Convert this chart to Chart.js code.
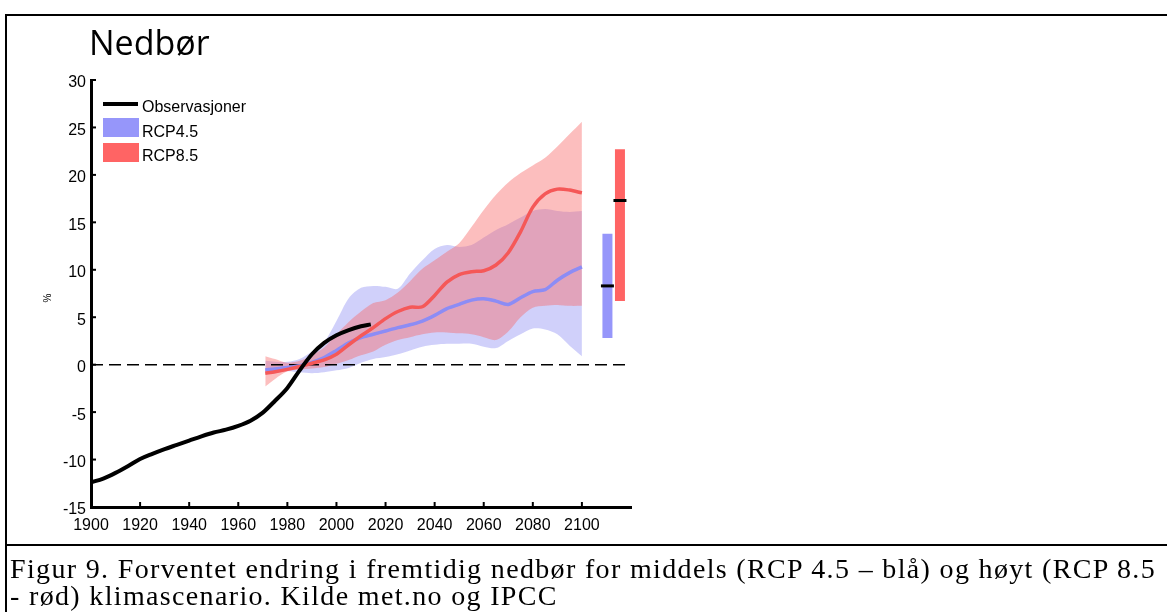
<!DOCTYPE html>
<html>
<head>
<meta charset="utf-8">
<title>Nedbør</title>
<script src="https://cdn.jsdelivr.net/npm/chart.js@4.4.1/dist/chart.umd.min.js"></script>
<style>
  html, body { margin: 0; padding: 0; background: #fff; }
  body { width: 1167px; height: 612px; position: relative; overflow: hidden; }
  #frame { position: absolute; left: 5px; top: 14px; width: 1170px; height: 620px;
           border-top: 2px solid #000; border-left: 2px solid #000; }
  #split { position: absolute; left: 5px; top: 544px; width: 1170px; height: 2px; background: #000; }
  #wrap { position: absolute; left: 0; top: 0; width: 660px; height: 545px; }
  .cap { position: absolute; left: 10px; font-family: "Liberation Serif", serif; font-size: 28px;
         line-height: 27px; white-space: nowrap; color: #000; }
</style>
</head>
<body>
<div id="frame"></div>
<div id="wrap"><canvas id="nedbor-chart"></canvas></div>
<div id="split"></div>
<div class="cap" id="cap1" style="top:555px">Figur 9. Forventet endring i fremtidig nedbør for middels (RCP 4.5 – blå) og høyt (RCP 8.5</div>
<div class="cap" id="cap2" style="top:582px">- rød) klimascenario. Kilde met.no og IPCC</div>
<script>
// observasjoner
const obsYears = [1900, 1905, 1910, 1915, 1920, 1925, 1930, 1935, 1940, 1945, 1950, 1955,
                  1960, 1965, 1970, 1975, 1980, 1985, 1990, 1995, 2000, 2005, 2010, 2014];
const obsValues = [-12.4, -12.0, -11.4, -10.7, -9.95, -9.4, -8.9, -8.45, -8.0, -7.55, -7.15, -6.85,
                   -6.45, -5.9, -5.05, -3.8, -2.45, -0.6, 1.1, 2.3, 3.1, 3.65, 4.05, 4.25];

// scenarier
const projYears = [1971, 1975, 1980, 1985, 1990, 1995, 2000, 2005, 2010, 2015, 2020, 2025, 2030, 2035,
                   2040, 2045, 2050, 2055, 2060, 2065, 2070, 2075, 2080, 2085, 2090, 2095, 2100];
const rcp45Mean = [-0.55, -0.45, -0.3, -0.1, 0.25, 0.75, 1.5, 2.3, 2.85, 3.2, 3.55, 3.9, 4.2, 4.6,
                   5.2, 5.9, 6.35, 6.8, 6.95, 6.7, 6.35, 7.05, 7.7, 7.9, 8.9, 9.7, 10.3];
const rcp45High = [0.4, 0.3, 0.3, 0.6, 1.4, 2.4, 4.6, 7.0, 8.1, 8.3, 8.2, 8.0, 9.6, 11.0,
                   12.2, 12.6, 12.4, 12.6, 13.4, 14.2, 14.8, 15.5, 16.2, 16.4, 16.2, 16.1, 16.2];
const rcp45Low = [-1.0, -0.9, -0.7, -0.8, -0.9, -0.8, -0.6, -0.35, 0.2, 0.6, 0.8, 1.1, 1.5, 1.9,
                  2.1, 2.2, 2.2, 2.2, 1.9, 1.75, 2.5, 3.2, 3.8, 3.7, 3.2, 2.0, 0.9];
const rcp85Mean = [-0.9, -0.75, -0.5, -0.2, 0.15, 0.5, 1.1, 2.1, 3.05, 3.9, 4.85, 5.6, 6.05, 6.1,
                   7.3, 8.7, 9.5, 9.8, 9.9, 10.5, 11.8, 14.0, 16.6, 18.0, 18.5, 18.4, 18.1];
const rcp85High = [0.9, 0.6, 0.2, 0.4, 1.0, 1.8, 3.2, 4.5, 5.6, 6.5, 6.8, 7.6, 8.8, 10.1,
                   11.0, 11.9, 12.8, 14.5, 16.3, 17.9, 19.2, 20.2, 21.0, 21.8, 23.0, 24.3, 25.6];
const rcp85Low = [-2.3, -1.5, -0.7, -0.5, -0.4, -0.25, 0.1, 0.5, 1.0, 1.4, 2.1, 2.6, 2.9, 3.2,
                  3.4, 3.4, 3.3, 3.2, 2.9, 2.6, 3.5, 5.0, 6.0, 6.2, 6.3, 6.2, 6.2];

// spenn ved 2100 (RCP4.5, RCP8.5)
const rangeYears = [2110.4, 2115.5];
const rangeLow = [2.8, 6.7];
const rangeHigh = [13.8, 22.7];
const rangeMedian = [8.3, 17.3];

const xRange = [1900, 2120];
const yRange = [-15, 30];
const zeroValues = [0, 0];
const legendLabels = ['Observasjoner', 'RCP4.5', 'RCP8.5'];

const BLUE = 'rgb(150, 150, 250)';
const RED = 'rgb(255, 100, 100)';

const pts = (xs, ys) => xs.map((x, i) => ({ x: x, y: ys[i] }));

const decor = {
    id: 'decor',
    afterDatasetsDraw(chart) {
        const { ctx, chartArea, scales: { x, y } } = chart;
        ctx.save();
        // ticks pointing inwards
        ctx.strokeStyle = '#000';
        ctx.lineWidth = 2;
        x.ticks.forEach(t => {
            if (t.value > 2100) return;
            const px = x.getPixelForValue(t.value);
            ctx.beginPath();
            ctx.moveTo(px, chartArea.bottom);
            ctx.lineTo(px, chartArea.bottom - 5);
            ctx.stroke();
        });
        y.ticks.forEach(t => {
            const py = y.getPixelForValue(t.value);
            ctx.beginPath();
            ctx.moveTo(chartArea.left, py);
            ctx.lineTo(chartArea.left + 5, py);
            ctx.stroke();
        });

        // legend
        const lx = chartArea.left + 12;
        ctx.font = '16px "Liberation Sans", Arial, sans-serif';
        ctx.fillStyle = '#000';
        ctx.textBaseline = 'alphabetic';
        ctx.lineWidth = 4;
        ctx.beginPath();
        ctx.moveTo(lx, 104);
        ctx.lineTo(lx + 35, 104);
        ctx.stroke();
        ctx.fillText(legendLabels[0], lx + 39, 112);
        ctx.fillStyle = BLUE;
        ctx.fillRect(lx, 118, 36, 19);
        ctx.fillStyle = RED;
        ctx.fillRect(lx, 143, 36, 19);
        ctx.fillStyle = '#000';
        ctx.fillText(legendLabels[1], lx + 39, 137);
        ctx.fillText(legendLabels[2], lx + 39, 161);

        // title
        ctx.font = '34px "Open Sans", sans-serif';
        ctx.fillText('Nedbør', 89, 55);

        // y axis unit
        ctx.font = '10px "Liberation Sans", Arial, sans-serif';
        ctx.translate(51, 298);
        ctx.rotate(-Math.PI / 2);
        ctx.textAlign = 'center';
        ctx.fillText('%', 0, 0);
        ctx.restore();
    }
};

const bandStyle = (color, order) => ({
    borderWidth: 0,
    borderColor: 'rgba(0,0,0,0)',
    backgroundColor: color,
    pointRadius: 0,
    tension: 0.3,
    order: order
});

new Chart(document.getElementById('nedbor-chart').getContext('2d'), {
    type: 'line',
    data: {
        datasets: [
            Object.assign({ label: 'RCP4.5 hi', data: pts(projYears, rcp45High), fill: '+1' }, bandStyle('rgba(120, 120, 240, 0.35)', 10)),
            Object.assign({ label: 'RCP4.5 lo', data: pts(projYears, rcp45Low), fill: false }, bandStyle('rgba(0,0,0,0)', 10)),
            Object.assign({ label: 'RCP8.5 hi', data: pts(projYears, rcp85High), fill: '+1' }, bandStyle('rgba(248, 100, 100, 0.42)', 9)),
            Object.assign({ label: 'RCP8.5 lo', data: pts(projYears, rcp85Low), fill: false }, bandStyle('rgba(0,0,0,0)', 9)),
            {
                label: 'null', data: pts(xRange, zeroValues), borderColor: '#000', borderWidth: 1.5,
                borderDash: [12, 6], pointRadius: 0, fill: false, order: 8
            },
            {
                label: legendLabels[1], data: pts(projYears, rcp45Mean), borderColor: 'rgb(140, 140, 245)',
                borderWidth: 3.5, pointRadius: 0, tension: 0.3, fill: false, order: 7
            },
            {
                label: legendLabels[2], data: pts(projYears, rcp85Mean), borderColor: 'rgb(245, 88, 88)',
                borderWidth: 3.5, pointRadius: 0, tension: 0.3, fill: false, order: 6
            },
            {
                label: legendLabels[0], data: pts(obsYears, obsValues), borderColor: '#000',
                borderWidth: 4, pointRadius: 0, cubicInterpolationMode: 'monotone', fill: false, order: 5
            },
            {
                label: 'RCP4.5 spenn', data: pts([rangeYears[0], rangeYears[0]], [rangeLow[0], rangeHigh[0]]),
                borderColor: BLUE, borderWidth: 10, borderCapStyle: 'butt', pointRadius: 0, fill: false, order: 4
            },
            {
                label: 'RCP8.5 spenn', data: pts([rangeYears[1], rangeYears[1]], [rangeLow[1], rangeHigh[1]]),
                borderColor: RED, borderWidth: 10, borderCapStyle: 'butt', pointRadius: 0, fill: false, order: 4
            },
            {
                label: 'median', data: pts(rangeYears, rangeMedian), showLine: false,
                pointStyle: 'line', pointRadius: 6.5, pointBorderWidth: 3, pointBorderColor: '#000',
                borderColor: '#000', fill: false, order: 3
            }
        ]
    },
    options: {
        responsive: true,
        maintainAspectRatio: false,
        animation: false,
        events: [],
        layout: { padding: { top: 80, right: 29, left: 0, bottom: 0 } },
        plugins: { legend: { display: false }, tooltip: { enabled: false } },
        scales: {
            x: {
                type: 'linear', min: xRange[0], max: xRange[1],
                afterFit: s => { s.height = 38; },
                grid: { drawOnChartArea: false, drawTicks: false },
                border: { display: true, color: '#000', width: 3 },
                ticks: {
                    stepSize: 20, autoSkip: false, maxRotation: 0, padding: 9, color: '#000',
                    font: { family: '"Liberation Sans", Arial, sans-serif', size: 16 },
                    callback: v => (v > 2100 ? '' : String(v))
                }
            },
            y: {
                min: yRange[0], max: yRange[1],
                afterFit: s => { s.width = 91; },
                grid: { drawOnChartArea: false, drawTicks: false },
                border: { display: true, color: '#000', width: 3 },
                ticks: {
                    stepSize: 5, padding: 5, labelOffset: 3, color: '#000',
                    font: { family: '"Liberation Sans", Arial, sans-serif', size: 16 }
                }
            }
        }
    },
    plugins: [decor]
});

// strekk bildeteksten til samme bredde som originalen
const cap1 = document.getElementById('cap1');
const cap2 = document.getElementById('cap2');
const w = cap1.getBoundingClientRect().width;
const spacing = (1146 - w) / cap1.textContent.length;
cap1.style.letterSpacing = spacing + 'px';
cap2.style.letterSpacing = spacing + 'px';
</script>
</body>
</html>
